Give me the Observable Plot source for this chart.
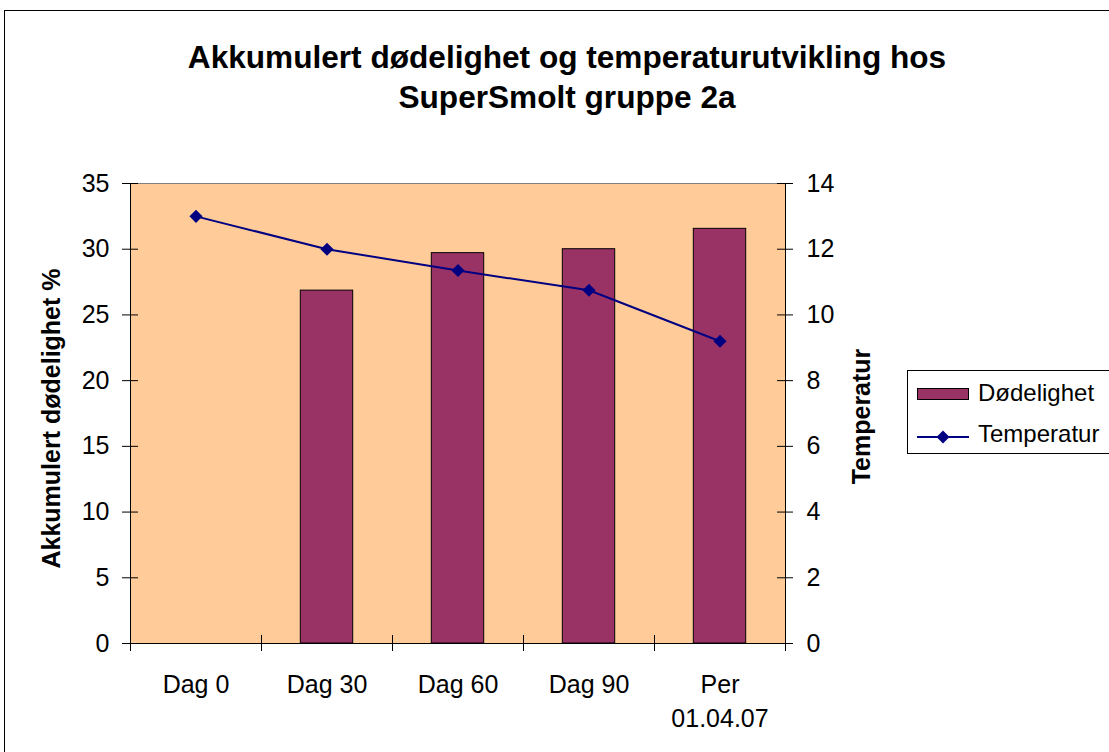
<!DOCTYPE html>
<html>
<head>
<meta charset="utf-8">
<script src="https://cdn.jsdelivr.net/npm/d3@7"></script>
<script src="https://cdn.jsdelivr.net/npm/@observablehq/plot@0.6"></script>
<style>
html, body { margin: 0; padding: 0; overflow: hidden; background: #fff; width: 1109px; height: 752px; }
#wrap { position: relative; width: 1109px; height: 752px; overflow: hidden; font-family: "Liberation Sans", Arial, sans-serif; color: #000; }
#chart { position: absolute; left: 0; top: 0; }
#chart svg { display: block; }
#border { position: absolute; left: 4px; top: 10px; width: 2000px; height: 2000px; border: 1px solid #000; box-sizing: border-box; pointer-events: none; }
#title { position: absolute; left: 0; width: 1134px; top: 37px; text-align: center; font-weight: bold; font-size: 31.6px; line-height: 40px; }
#legend { position: absolute; left: 907px; top: 370px; width: 400px; height: 84px; border: 1px solid #000; box-sizing: border-box; background: #fff; }
#legend .sw { position: absolute; left: 9px; top: 17px; width: 52px; height: 12px; background: #993366; border: 1px solid #000; box-sizing: border-box; }
#legend .txt { position: absolute; left: 70px; font-size: 24px; line-height: 24px; white-space: nowrap; }
#legend svg { position: absolute; left: 9px; top: 59px; }
</style>
</head>
<body>
<div id="wrap">
  <div id="chart"></div>
  <div id="title">Akkumulert dødelighet og temperaturutvikling hos<br>SuperSmolt gruppe 2a</div>
  <div id="legend"></div>
  <div id="border"></div>
</div>
<script>
const categories = ["Dag 0", "Dag 30", "Dag 60", "Dag 90", "Per\n01.04.07"];
const mortality = [null, 26.85, 29.7, 30.0, 31.55];
const temperature = [13.0, 12.0, 11.35, 10.75, 9.2];
const leftTicks = [0, 5, 10, 15, 20, 25, 30, 35];
const rightTicks = [0, 2, 4, 6, 8, 10, 12, 14];
const seriesNames = ["Dødelighet", "Temperatur"];
const axisTitles = ["Akkumulert dødelighet %", "Temperatur"];
const leftMax = 35, rightMax = 14;

const k = leftMax / rightMax;
const n = categories.length;
const rows = categories.map((c, i) => ({i, c, m: mortality[i], t: temperature[i]}));
const bounds = d3.range(n + 1);

const plot = Plot.plot({
  width: 1109,
  height: 752,
  marginLeft: 130,
  marginRight: 324,
  marginTop: 183,
  marginBottom: 109,
  style: {fontFamily: '"Liberation Sans", Arial, sans-serif', background: "transparent", color: "#000", overflow: "visible"},
  x: {domain: [0, n]},
  y: {domain: [0, leftMax]},
  marks: [
    Plot.frame({fill: "#FFCC99", stroke: null}),
    Plot.rect(rows.filter(d => d.m != null), {
      x1: d => d.i, x2: d => d.i + 1, y1: 0, y2: "m",
      insetLeft: 39.3, insetRight: 39.3,
      fill: "#993366", stroke: "#000", strokeWidth: 1
    }),
    Plot.ruleY([leftMax], {stroke: "#808080", strokeWidth: 1}),
    Plot.ruleX([0, n], {stroke: "#000", strokeWidth: 1}),
    Plot.ruleY([0], {stroke: "#000", strokeWidth: 1}),
    Plot.ruleX(bounds, {x: d => d, y1: 0, y2: 0, insetTop: -8, insetBottom: -8, stroke: "#000"}),
    Plot.ruleY(leftTicks, {y: d => d, x1: 0, x2: 0, insetLeft: -8, insetRight: -8, stroke: "#000"}),
    Plot.ruleY(rightTicks, {y: d => d * k, x1: n, x2: n, insetLeft: -8, insetRight: -8, stroke: "#000"}),
    Plot.axisY(leftTicks, {
      anchor: "left", tickSize: 0, tickPadding: 21, fontSize: 25, label: null
    }),
    Plot.axisY(rightTicks.map(t => t * k), {
      anchor: "right", tickSize: 0, tickPadding: 21, fontSize: 25,
      tickFormat: d => String(Math.round(d / k)), label: null
    }),
    Plot.axisX(d3.range(n).map(i => i + 0.5), {
      anchor: "bottom", tickSize: 0, tickPadding: 25, fontSize: 25, lineHeight: 1.36,
      tickFormat: d => categories[Math.floor(d)], label: null
    }),
    Plot.text([axisTitles[0]], {
      frameAnchor: "left", rotate: -90, textAnchor: "middle", lineAnchor: "top", dx: -88, dy: 5,
      fontSize: 25, fontWeight: "bold", fill: "#000"
    }),
    Plot.text([axisTitles[1]], {
      frameAnchor: "right", rotate: -90, textAnchor: "middle", lineAnchor: "bottom", dx: 84, dy: 3,
      fontSize: 25, fontWeight: "bold", fill: "#000"
    }),
    Plot.line(rows, {x: d => d.i + 0.5, y: d => d.t * k, stroke: "#000080", strokeWidth: 2}),
    Plot.dot(rows, {x: d => d.i + 0.5, y: d => d.t * k, symbol: "diamond2", r: 5.9, fill: "#000080", stroke: null})
  ]
});
document.getElementById("chart").appendChild(plot);

const legend = document.getElementById("legend");
legend.innerHTML =
  '<div class="sw"></div>' +
  '<div class="txt" style="top:10px">' + seriesNames[0] + '</div>' +
  '<svg width="52" height="14" viewBox="0 0 52 14"><line x1="0" y1="7" x2="52" y2="7" stroke="#000080" stroke-width="2"/>' +
  '<path d="M26,0.5L32.5,7L26,13.5L19.5,7Z" fill="#000080"/></svg>' +
  '<div class="txt" style="top:51px">' + seriesNames[1] + '</div>';
</script>
</body>
</html>
